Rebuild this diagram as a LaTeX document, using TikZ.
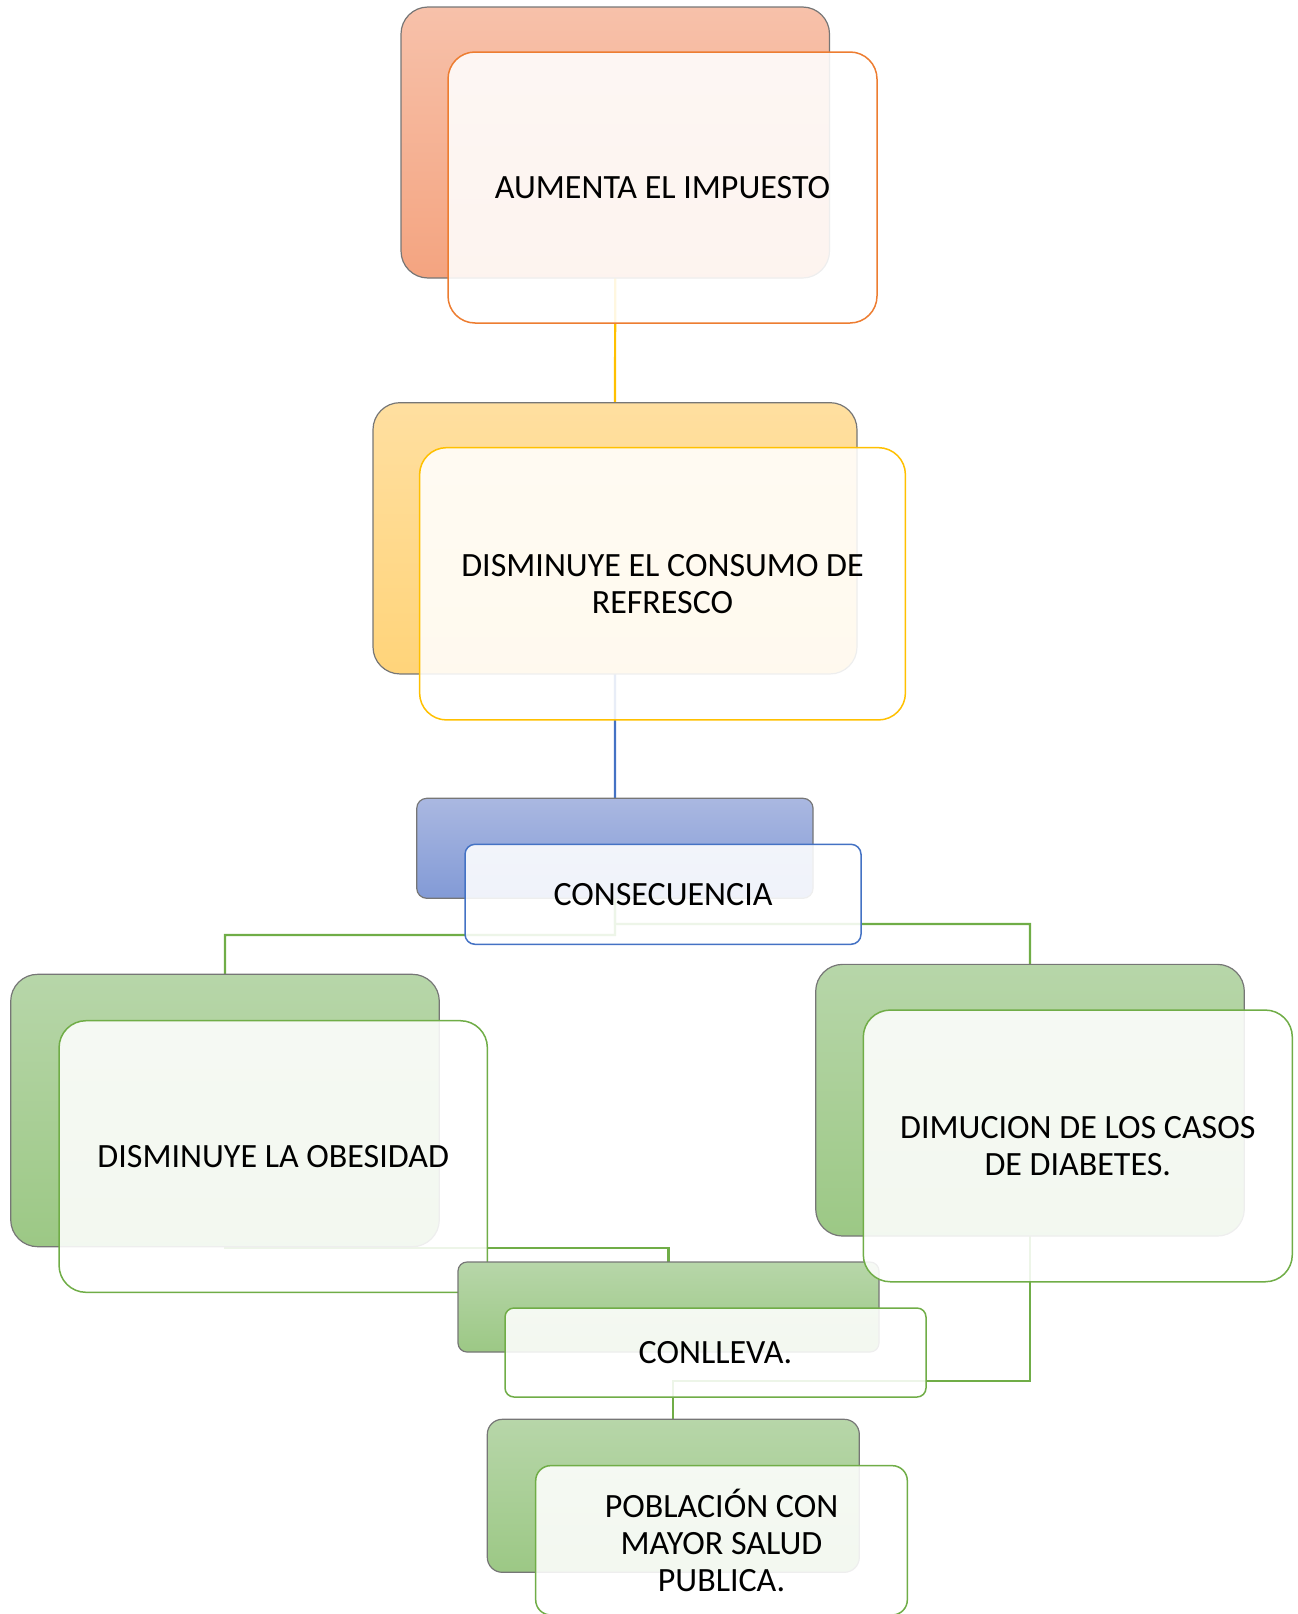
\documentclass[tikz,border=0pt]{standalone}
\usepackage{fontspec}
\setmainfont{Carlito}
\definecolor{orgA}{RGB}{247,193,170}
\definecolor{orgB}{RGB}{244,164,128}
\definecolor{orgL}{RGB}{237,125,49}
\definecolor{yelA}{RGB}{255,223,160}
\definecolor{yelB}{RGB}{255,212,122}
\definecolor{yelL}{RGB}{255,192,0}
\definecolor{bluA}{RGB}{170,184,225}
\definecolor{bluB}{RGB}{130,154,214}
\definecolor{bluL}{RGB}{68,114,196}
\definecolor{grnA}{RGB}{183,214,169}
\definecolor{grnB}{RGB}{156,200,133}
\definecolor{grnL}{RGB}{112,173,71}
\definecolor{edgeG}{RGB}{118,118,118}
\tikzset{
  backbox/.style={draw=edgeG, line width=1.2pt, inner sep=0pt, outer sep=0pt, shape=rectangle},
  frontbox/.style={fill=white, fill opacity=0.88, text opacity=1, line width=1.5pt, inner sep=0pt, outer sep=0pt, shape=rectangle, align=center, font=\fontsize{34}{37}\selectfont, text=black},
  conn/.style={line width=2.2pt},
}
\begin{document}
\begin{tikzpicture}[x=1pt,y=-1pt]
\useasboundingbox (0,0) rectangle (1298,1614);
% connector junctions
\coordinate (jl) at (615,935);
\coordinate (jr) at (615,924);
\coordinate (jc) at (225,1248);
\coordinate (jp) at (1030,1381);
% back boxes as anchors (drawn later), define positions via invisible nodes first
\path (615.25,142.5) node[backbox, draw=none, minimum width=428.5pt, minimum height=271pt] (b1) {};
\path (615,538.3) node[backbox, draw=none, minimum width=484pt, minimum height=271.3pt] (b2) {};
\path (614.9,848.3) node[backbox, draw=none, minimum width=396.3pt, minimum height=100pt] (b3) {};
\path (225,1110.5) node[backbox, draw=none, minimum width=428.6pt, minimum height=272.4pt] (b4) {};
\path (1030,1100.2) node[backbox, draw=none, minimum width=428.6pt, minimum height=271.7pt] (b5) {};
\path (668.5,1307) node[backbox, draw=none, minimum width=421pt, minimum height=90pt] (b6) {};
\path (673.3,1495.8) node[backbox, draw=none, minimum width=372pt, minimum height=153pt] (b7) {};
% connectors
\draw[conn, yelL] (b1.south) -- (b2.north);
\draw[conn, bluL] (b2.south) -- (b3.north);
\draw[conn, grnL] (b3.south) -- (jl) -| (b4.north);
\draw[conn, grnL] (b3.south) -- (jr) -| (b5.north);
\draw[conn, grnL] (b4.south) -- (jc) -| (b6.north);
\draw[conn, grnL] (b5.south) -- (jp) -| (b7.north);
% node 1
\node[backbox, rounded corners=27pt, top color=orgA, bottom color=orgB, minimum width=428.5pt, minimum height=271pt] (k1) at (b1) {};
\node[frontbox, draw=orgL, rounded corners=27pt, minimum width=429pt, minimum height=271pt] (f1) at (662.5,187.5) {AUMENTA EL IMPUESTO};
% node 2
\node[backbox, rounded corners=27pt, top color=yelA, bottom color=yelB, minimum width=484pt, minimum height=271.3pt] (k2) at (b2) {};
\node[frontbox, draw=yelL, rounded corners=27pt, minimum width=485.8pt, minimum height=272.3pt] (f2) at (662.5,583.8) {DISMINUYE EL CONSUMO DE\\REFRESCO};
% node 3
\node[backbox, rounded corners=10pt, top color=bluA, bottom color=bluB, minimum width=396.3pt, minimum height=100pt] (k3) at (b3) {};
\node[frontbox, draw=bluL, rounded corners=10pt, minimum width=396pt, minimum height=100pt] (f3) at (663,894.3) {CONSECUENCIA};
% node 4
\node[backbox, rounded corners=27pt, top color=grnA, bottom color=grnB, minimum width=428.6pt, minimum height=272.4pt] (k4) at (b4) {};
\node[frontbox, draw=grnL, rounded corners=27pt, minimum width=428.3pt, minimum height=271.6pt] (f4) at (273.2,1156.5) {DISMINUYE LA OBESIDAD};
% node 6
\node[backbox, rounded corners=9pt, top color=grnA, bottom color=grnB, minimum width=421pt, minimum height=90pt] (k6) at (b6) {};
\node[frontbox, draw=grnL, rounded corners=9pt, minimum width=421pt, minimum height=89pt] (f6) at (715.5,1352.5) {CONLLEVA.};
% node 5
\node[backbox, rounded corners=27pt, top color=grnA, bottom color=grnB, minimum width=428.6pt, minimum height=271.7pt] (k5) at (b5) {};
\node[frontbox, draw=grnL, rounded corners=27pt, minimum width=429pt, minimum height=271.7pt] (f5) at (1077.8,1145.9) {DIMUCION DE LOS CASOS\\DE DIABETES.};
% node 7
\node[backbox, rounded corners=15pt, top color=grnA, bottom color=grnB, minimum width=372pt, minimum height=153pt] (k7) at (b7) {};
\node[frontbox, draw=grnL, rounded corners=15pt, minimum width=371.6pt, minimum height=149.3pt] (f7) at (721.5,1540.3) {POBLACIÓN CON\\MAYOR SALUD\\PUBLICA.};
\end{tikzpicture}
\end{document}
